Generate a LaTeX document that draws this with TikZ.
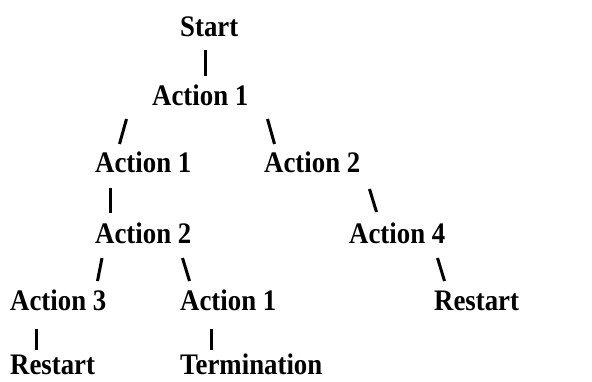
\documentclass[tikz,border=0pt]{standalone}
\usepackage{fontspec}
\setmainfont{Liberation Serif}[FakeStretch=0.9]
\begin{document}
\begin{tikzpicture}[x=1pt,y=1pt,
  lbl/.style={anchor=base west,inner sep=0pt,text depth=0pt,font=\fontsize{29.8}{34}\selectfont\bfseries},
  conn/.style={line width=3pt,line cap=butt}]
\useasboundingbox (0,0) rectangle (592,381);
% text nodes (x = left edge, y = 381 - baseline)
\node[lbl] (start) at (180,344) {Start};
\node[lbl] (a1)    at (152,275) {Action 1};
\node[lbl] (a1b)   at (95,208)  {Action 1};
\node[lbl] (a2)    at (264,208) {Action 2};
\node[lbl] (a2b)   at (95,138)  {Action 2};
\node[lbl] (a4)    at (349,138) {Action 4};
\node[lbl] (a3)    at (10,71)   {Action 3};
\node[lbl] (a1c)   at (180,71)  {Action 1};
\node[lbl] (rsr)   at (434,71)  {Restart};
\node[lbl] (rsl)   at (10,7)    {Restart};
\node[lbl] (term)  at (180,7)   {Termination};
% connector end points
\coordinate (s1) at (205,331);   \coordinate (e1) at (205,305);
\coordinate (s2) at (126.5,262); \coordinate (e2) at (119.5,237);
\coordinate (s3) at (267.5,262); \coordinate (e3) at (274.5,237);
\coordinate (s4) at (110,193);   \coordinate (e4) at (110,168);
\coordinate (s5) at (369.5,192); \coordinate (e5) at (376.5,169);
\coordinate (s6) at (102,123);   \coordinate (e6) at (97.5,100);
\coordinate (s7) at (182.5,123); \coordinate (e7) at (189.5,100);
\coordinate (s8) at (437.5,123); \coordinate (e8) at (444.5,100);
\coordinate (s9) at (36,52);     \coordinate (e9) at (36,31);
\coordinate (s10) at (211,52);   \coordinate (e10) at (211,31);
% connectors
\draw[conn] (s1) -- (e1);
\draw[conn] (s2) -- (e2);
\draw[conn] (s3) -- (e3);
\draw[conn] (s4) -- (e4);
\draw[conn] (s5) -- (e5);
\draw[conn] (s6) -- (e6);
\draw[conn] (s7) -- (e7);
\draw[conn] (s8) -- (e8);
\draw[conn] (s9) -- (e9);
\draw[conn] (s10) -- (e10);
\end{tikzpicture}
\end{document}
